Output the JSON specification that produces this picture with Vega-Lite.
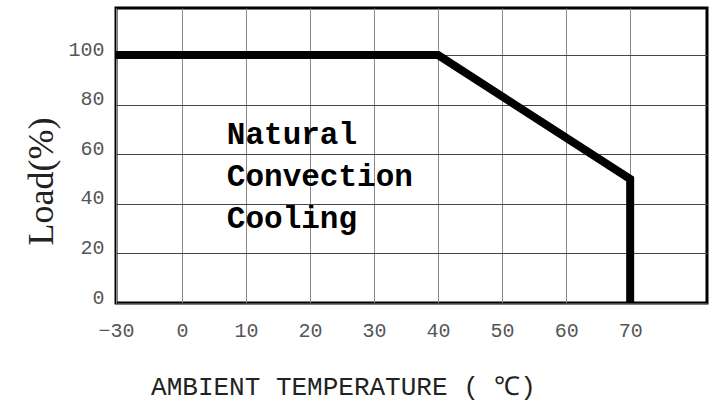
{
  "$schema": "https://vega.github.io/schema/vega-lite/v6.json",
  "width": 591,
  "height": 295,
  "autosize": {"type": "none"},
  "padding": {"left": 116, "top": 8, "right": 4, "bottom": 98},
  "background": "white",
  "config": {
    "view": {"stroke": "#000", "strokeWidth": 3},
    "axis": {"domain": false, "ticks": false, "grid": true, "gridWidth": 1, "labelFont": "Liberation Mono", "labelFontSize": 20, "labelColor": "#555", "labelFontWeight": "normal", "labelFlush": false, "labelOverlap": false}
  },
  "datasets": {
    "curve": [
      {"seq": 1, "temp": -30, "load": 100},
      {"seq": 2, "temp": 40, "load": 100},
      {"seq": 3, "temp": 70, "load": 50},
      {"seq": 4, "temp": 70, "load": 0}
    ],
    "notes": [
      {"label": "Natural", "temp": 7, "load": 64},
      {"label": "Convection", "temp": 7, "load": 47.3},
      {"label": "Cooling", "temp": 7, "load": 30.3}
    ]
  },
  "encoding": {
    "x": {
      "field": "temp", "type": "quantitative",
      "scale": {"domain": [-30, 0, 82], "range": [0, 66, 591], "nice": false, "zero": false},
      "axis": {
        "values": [-30, 0, 10, 20, 30, 40, 50, 60, 70],
        "gridColor": "#888",
        "labelPadding": 17,
        "title": "AMBIENT TEMPERATURE ( ℃)",
        "titleFont": "Liberation Mono", "titleFontSize": 26, "titleFontWeight": "normal", "titleColor": "#222",
        "titleX": 227, "titleY": 91, "titleAlign": "center", "titleBaseline": "alphabetic"
      }
    },
    "y": {
      "field": "load", "type": "quantitative",
      "scale": {"domain": [0, 119], "nice": false, "zero": true},
      "axis": {
        "values": [0, 20, 40, 60, 80, 100],
        "gridColor": "#444",
        "labelPadding": 12,
        "labelBaseline": "alphabetic",
        "title": "Load(%)",
        "titleFont": "Liberation Serif", "titleFontSize": 36, "titleFontWeight": "normal", "titleColor": "#222",
        "titleAngle": -90, "titleX": -64, "titleY": 173, "titleAlign": "center", "titleBaseline": "alphabetic"
      }
    }
  },
  "layer": [
    {
      "data": {"name": "curve"},
      "mark": {"type": "line", "color": "#000", "strokeWidth": 8, "strokeJoin": "miter", "strokeCap": "butt"},
      "encoding": {"order": {"field": "seq", "type": "quantitative"}}
    },
    {
      "data": {"name": "notes"},
      "mark": {"type": "text", "font": "Liberation Mono", "fontWeight": "bold", "fontSize": 31, "align": "left", "baseline": "alphabetic", "color": "#000"},
      "encoding": {"text": {"field": "label", "type": "nominal"}}
    }
  ]
}
